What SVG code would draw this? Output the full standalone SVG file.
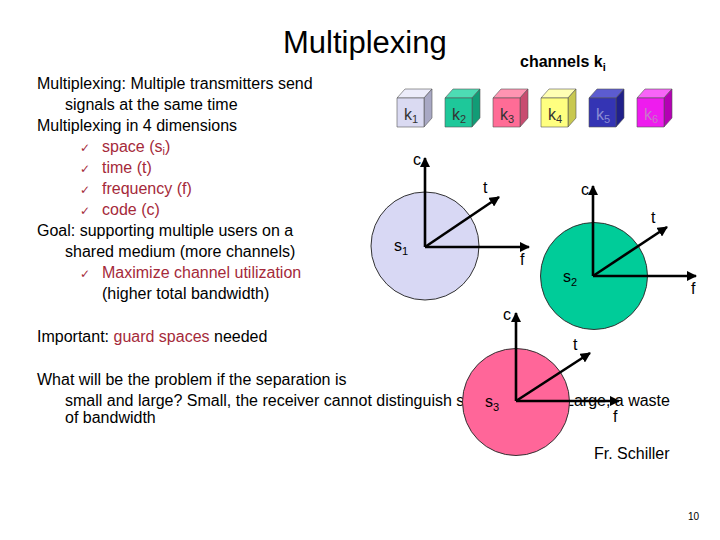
<svg xmlns="http://www.w3.org/2000/svg" width="720" height="540" viewBox="0 0 720 540">
<defs>
<marker id="ah" viewBox="0 0 10 10" refX="9" refY="5" markerWidth="4" markerHeight="4" orient="auto" markerUnits="strokeWidth">
<path d="M0,0 L10,5 L0,10 z" fill="#000"/>
</marker>
<style>
text{font-family:"Liberation Sans",Arial,sans-serif;}
.t{font-size:16px;fill:#000;}
.r{fill:#a52a3a;}
.ck{font-family:"DejaVu Sans",sans-serif;font-size:12px;fill:#a52a3a;}
.ax{stroke:#000;stroke-width:2.6;fill:none;marker-end:url(#ah);}
.lbl{font-size:16px;fill:#000;}
.cube path{stroke:#555;stroke-width:0.6;}
.ct{font-size:16px;}
.circ{stroke:#333;stroke-width:1;}
</style>
</defs>
<rect width="720" height="540" fill="#fff"/>
<text x="283" y="53" style="font-size:31px">Multiplexing</text>
<text x="520" y="67" style="font-size:16px;font-weight:bold">channels k<tspan dy="4" style="font-size:11px">i</tspan></text>

<g id="body">
<text class="t" x="37" y="89">Multiplexing: Multiple transmitters send</text>
<text class="t" x="65" y="110">signals at the same time</text>
<text class="t" x="37" y="131">Multiplexing in 4 dimensions</text>
<text class="ck" x="80" y="152">✓</text><text class="t r" x="102" y="152">space (s<tspan dy="3" style="font-size:11px">i</tspan><tspan dy="-3">)</tspan></text>
<text class="ck" x="80" y="173">✓</text><text class="t r" x="102" y="173">time (t)</text>
<text class="ck" x="80" y="194">✓</text><text class="t r" x="102" y="194">frequency (f)</text>
<text class="ck" x="80" y="215">✓</text><text class="t r" x="102" y="215">code (c)</text>
<text class="t" x="37" y="236">Goal: supporting multiple users on a</text>
<text class="t" x="65" y="257">shared medium (more channels)</text>
<text class="ck" x="80" y="278">✓</text><text class="t r" x="102" y="278">Maximize channel utilization</text>
<text class="t" x="102" y="299">(higher total bandwidth)</text>
<text class="t" x="37" y="342">Important: <tspan class="r">guard spaces</tspan> needed</text>
<text class="t" x="37" y="385">What will be the problem if the separation is</text>
<text class="t" x="65" y="406">small and large? Small, the receiver cannot distinguish s</text>
<text class="t" x="565" y="406">Large, a waste</text>
<text class="t" x="65" y="423">of bandwidth</text>
<text class="t" x="594" y="459">Fr. Schiller</text>
<text x="688" y="520" style="font-size:10px">10</text>
</g>

<g id="k1" class="cube" transform="translate(397,98)">
<path d="M0,0 L8,-9 L35,-9 L27,0 z" fill="#ececfa"/>
<path d="M27,0 L35,-9 L35,20 L27,29 z" fill="#a8a8c4"/>
<path d="M0,0 H27 V29 H0 z" fill="#dadaf2"/>
<text class="ct" x="7" y="22" fill="#333">k<tspan dy="3" style="font-size:11px">1</tspan></text>
</g>
<g id="k2" class="cube" transform="translate(445,98)">
<path d="M0,0 L8,-9 L35,-9 L27,0 z" fill="#4ddcb4"/>
<path d="M27,0 L35,-9 L35,20 L27,29 z" fill="#119c76"/>
<path d="M0,0 H27 V29 H0 z" fill="#1ec89a"/>
<text class="ct" x="7" y="22" fill="#333">k<tspan dy="3" style="font-size:11px">2</tspan></text>
</g>
<g id="k3" class="cube" transform="translate(493,98)">
<path d="M0,0 L8,-9 L35,-9 L27,0 z" fill="#ff94b2"/>
<path d="M27,0 L35,-9 L35,20 L27,29 z" fill="#c84c70"/>
<path d="M0,0 H27 V29 H0 z" fill="#ff6c96"/>
<text class="ct" x="7" y="22" fill="#333">k<tspan dy="3" style="font-size:11px">3</tspan></text>
</g>
<g id="k4" class="cube" transform="translate(541,98)">
<path d="M0,0 L8,-9 L35,-9 L27,0 z" fill="#ffffb4"/>
<path d="M27,0 L35,-9 L35,20 L27,29 z" fill="#c8c850"/>
<path d="M0,0 H27 V29 H0 z" fill="#ffff80"/>
<text class="ct" x="7" y="22" fill="#333">k<tspan dy="3" style="font-size:11px">4</tspan></text>
</g>
<g id="k5" class="cube" transform="translate(589,98)">
<path d="M0,0 L8,-9 L35,-9 L27,0 z" fill="#5c5cd0"/>
<path d="M27,0 L35,-9 L35,20 L27,29 z" fill="#20208a"/>
<path d="M0,0 H27 V29 H0 z" fill="#3434b4"/>
<text class="ct" x="7" y="22" fill="#8c8cd4">k<tspan dy="3" style="font-size:11px">5</tspan></text>
</g>
<g id="k6" class="cube" transform="translate(637,98)">
<path d="M0,0 L8,-9 L35,-9 L27,0 z" fill="#f864f8"/>
<path d="M27,0 L35,-9 L35,20 L27,29 z" fill="#b400b4"/>
<path d="M0,0 H27 V29 H0 z" fill="#ee1cee"/>
<text class="ct" x="7" y="22" fill="#c878c8">k<tspan dy="3" style="font-size:11px">6</tspan></text>
</g>

<g id="s1">
<circle class="circ" cx="425" cy="246" r="54" fill="#d8d8f4"/>
<text class="lbl" x="394" y="251">s<tspan dy="4" style="font-size:11px">1</tspan></text>
</g>
<g id="s2">
<circle class="circ" cx="594" cy="276" r="53.5" fill="#00cc99"/>
<text class="lbl" x="563" y="282">s<tspan dy="4" style="font-size:11px">2</tspan></text>
</g>
<g id="s3">
<circle class="circ" cx="516" cy="402" r="53.5" fill="#ff6699"/>
<text class="lbl" x="485" y="407">s<tspan dy="4" style="font-size:11px">3</tspan></text>
</g>

<g id="connectors">
<line class="ax" x1="425" y1="247" x2="425" y2="158"/>
<line class="ax" x1="425" y1="247" x2="499" y2="197"/>
<line class="ax" x1="425" y1="247" x2="529" y2="247"/>
<line class="ax" x1="593" y1="276" x2="593" y2="186"/>
<line class="ax" x1="593" y1="276" x2="667" y2="227"/>
<line class="ax" x1="593" y1="276" x2="696" y2="276"/>
<line class="ax" x1="516" y1="401" x2="516" y2="313"/>
<line class="ax" x1="516" y1="401" x2="590" y2="353"/>
<line class="ax" x1="516" y1="401" x2="619" y2="401"/>
</g>
<g id="axis-labels">
<text class="lbl" x="413" y="165">c</text>
<text class="lbl" x="483" y="193">t</text>
<text class="lbl" x="520" y="265">f</text>
<text class="lbl" x="581" y="195">c</text>
<text class="lbl" x="651" y="223">t</text>
<text class="lbl" x="691" y="294">f</text>
<text class="lbl" x="503" y="320">c</text>
<text class="lbl" x="573" y="350">t</text>
<text class="lbl" x="613" y="422">f</text>
</g>
</svg>
